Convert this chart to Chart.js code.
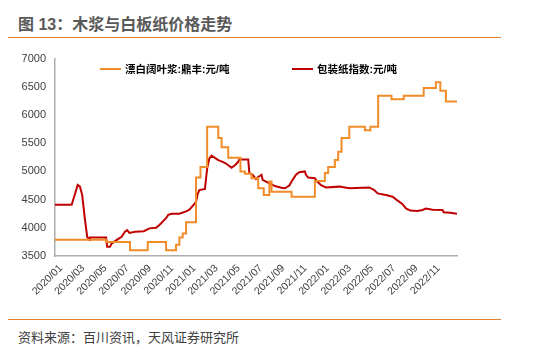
<!DOCTYPE html>
<html>
<head>
<meta charset="utf-8">
<script src="https://cdn.jsdelivr.net/npm/chart.js@4"></script>
<style>
  body { margin: 0; width: 537px; height: 349px; background: #fff; position: relative; overflow: hidden;
         font-family: "Liberation Sans", "Noto Sans CJK SC", sans-serif; }
  #title { position: absolute; left: 18px; top: 11px; font-size: 16px; font-weight: bold; color: #595959; white-space: nowrap; }
  .rule { position: absolute; left: 8px; width: 493px; height: 1px; background: #E6822F; }
  #source { position: absolute; left: 18px; top: 327px; font-size: 13px; color: #404040; white-space: nowrap; }
  #wrap { position: absolute; left: 0; top: 40px; width: 537px; height: 278px; }
  .leg { position: absolute; top: 63px; font-size: 10.5px; font-weight: bold; color: #000; white-space: nowrap; line-height: 13px; }
  .leg span { display: inline-block; width: 21px; height: 2px; vertical-align: middle; margin-right: 4px; position: relative; top: -1px; }
</style>
</head>
<body>
<div id="title">图 13：木浆与白板纸价格走势</div>
<div class="rule" style="top:37px"></div>
<div id="wrap"><canvas id="chart"></canvas></div>
<div class="leg" style="left:100px"><span style="background:#F28C28"></span>漂白阔叶浆:鼎丰:元/吨</div>
<div class="leg" style="left:292px"><span style="background:#C00000"></span>包装纸指数:元/吨</div>
<div class="rule" style="top:319px"></div>
<div id="source">资料来源：百川资讯，天风证券研究所</div>

<script>
// months counted from 2020/01
const tickLabels = ['2020/01', '2020/03', '2020/05', '2020/07', '2020/09', '2020/11',
  '2021/01', '2021/03', '2021/05', '2021/07', '2021/09', '2021/11',
  '2022/01', '2022/03', '2022/05', '2022/07', '2022/09', '2022/11'];

// 漂白阔叶浆 (step series, month where each price starts)
const pulpMonths = [0, 4.6, 6.75, 8.35, 10.0, 10.9, 11.2, 11.5, 11.8, 12.7,
  13.1, 13.7, 14.7, 15.0, 15.6, 16.7, 17.1, 17.7, 18.3, 18.8,
  19.3, 19.5, 21.3, 23.4, 24.3, 24.6, 25.2, 25.5, 25.8, 26.5,
  27.9, 28.4, 29.1, 30.3, 31.4, 33.2, 34.3, 34.7, 35.2, 36.2];
const pulpPrice = [3790, 3750, 3600, 3750, 3600, 3700, 3830, 3900, 4100, 4890,
  5080, 5790, 5590, 5430, 5240, 5000, 4960, 4880, 4700, 4580,
  4820, 4640, 4550, 4830, 4970, 5080, 5200, 5350, 5590, 5790,
  5730, 5790, 6340, 6280, 6340, 6480, 6580, 6430, 6240, 6240];

// 包装纸指数
const paperMonths = [0, 1.5, 1.8, 2.04, 2.25, 2.45, 2.7, 2.9, 3.1, 3.15,
  4.6, 4.7, 4.95, 5.1, 5.3, 5.6, 6.0, 6.3, 6.5, 6.7,
  7.2, 8.0, 8.5, 9.1, 9.4, 9.7, 10.0, 10.2, 10.5, 11.2,
  11.8, 12.1, 12.4, 12.7, 12.85, 13.0, 13.5, 13.7, 13.9, 14.1,
  14.4, 14.7, 15.1, 15.4, 15.9, 16.2, 16.5, 16.6, 17.4, 17.5,
  17.8, 18.1, 18.3, 18.6, 18.7, 19.0, 19.3, 19.8, 20.4, 20.7,
  21.1, 21.4, 21.7, 22.0, 22.5, 22.6, 22.8, 23.4, 23.6, 24.0,
  24.4, 25.6, 26.5, 28.3, 28.75, 29.05, 29.8, 30.4, 30.8, 31.3,
  31.6, 32.0, 32.6, 33.1, 33.4, 34.0, 34.9, 35.0, 35.6, 36.2];
const paperIndex = [4410, 4410, 4600, 4760, 4730, 4580, 4140, 3840, 3785, 3830,
  3830, 3665, 3665, 3720, 3750, 3790, 3840, 3930, 3960, 3910,
  3930, 3940, 3990, 4000, 4050, 4110, 4170, 4230, 4250, 4250,
  4290, 4320, 4390, 4460, 4600, 4670, 4690, 5050, 5230, 5280,
  5240, 5200, 5170, 5140, 5065, 5110, 5170, 5210, 5210, 4970,
  4940, 4865, 4900, 4940, 4850, 4820, 4790, 4740, 4710, 4700,
  4750, 4850, 4940, 4985, 5000, 4940, 4890, 4880, 4820, 4750,
  4715, 4730, 4700, 4715, 4670, 4610, 4580, 4550, 4490, 4420,
  4345, 4305, 4300, 4315, 4340, 4320, 4315, 4275, 4268, 4250];

const font = "'Liberation Sans', 'Noto Sans CJK SC', sans-serif";

new Chart(document.getElementById('chart'), {
  type: 'line',
  data: {
    datasets: [
      {
        label: '漂白阔叶浆:鼎丰:元/吨',
        data: pulpMonths.map((m, i) => ({ x: m, y: pulpPrice[i] })),
        borderColor: '#F28C28',
        borderWidth: 2,
        stepped: true,
        pointRadius: 0
      },
      {
        label: '包装纸指数:元/吨',
        data: paperMonths.map((m, i) => ({ x: m, y: paperIndex[i] })),
        borderColor: '#C00000',
        borderWidth: 2,
        pointRadius: 0
      }
    ]
  },
  options: {
    responsive: true,
    maintainAspectRatio: false,
    animation: false,
    layout: { padding: { top: 18.6, right: 80, left: 0, bottom: 0 } },
    plugins: { legend: { display: false }, tooltip: { enabled: false } },
    scales: {
      x: {
        type: 'linear',
        min: 0,
        max: 36.2,
        afterBuildTicks: scale => { scale.ticks = tickLabels.map((_, i) => ({ value: i * 2 })); },
        afterFit: scale => { scale.height = 62; },
        grid: { display: false, drawTicks: false },
        border: { color: '#ADADAD', width: 1.5 },
        ticks: {
          minRotation: 45,
          maxRotation: 45,
          padding: 6,
          labelOffset: 6,
          autoSkip: false,
          color: '#404040',
          font: { family: font, size: 10.5 },
          callback: v => tickLabels[v / 2]
        }
      },
      y: {
        min: 3500,
        max: 7000,
        afterFit: scale => { scale.width = 55; },
        grid: { display: false, drawTicks: false },
        border: { color: '#ADADAD', width: 1.5 },
        ticks: {
          stepSize: 500,
          padding: 9,
          color: '#404040',
          font: { family: font, size: 11 },
          callback: v => String(v)
        }
      }
    }
  }
});
</script>
</body>
</html>
